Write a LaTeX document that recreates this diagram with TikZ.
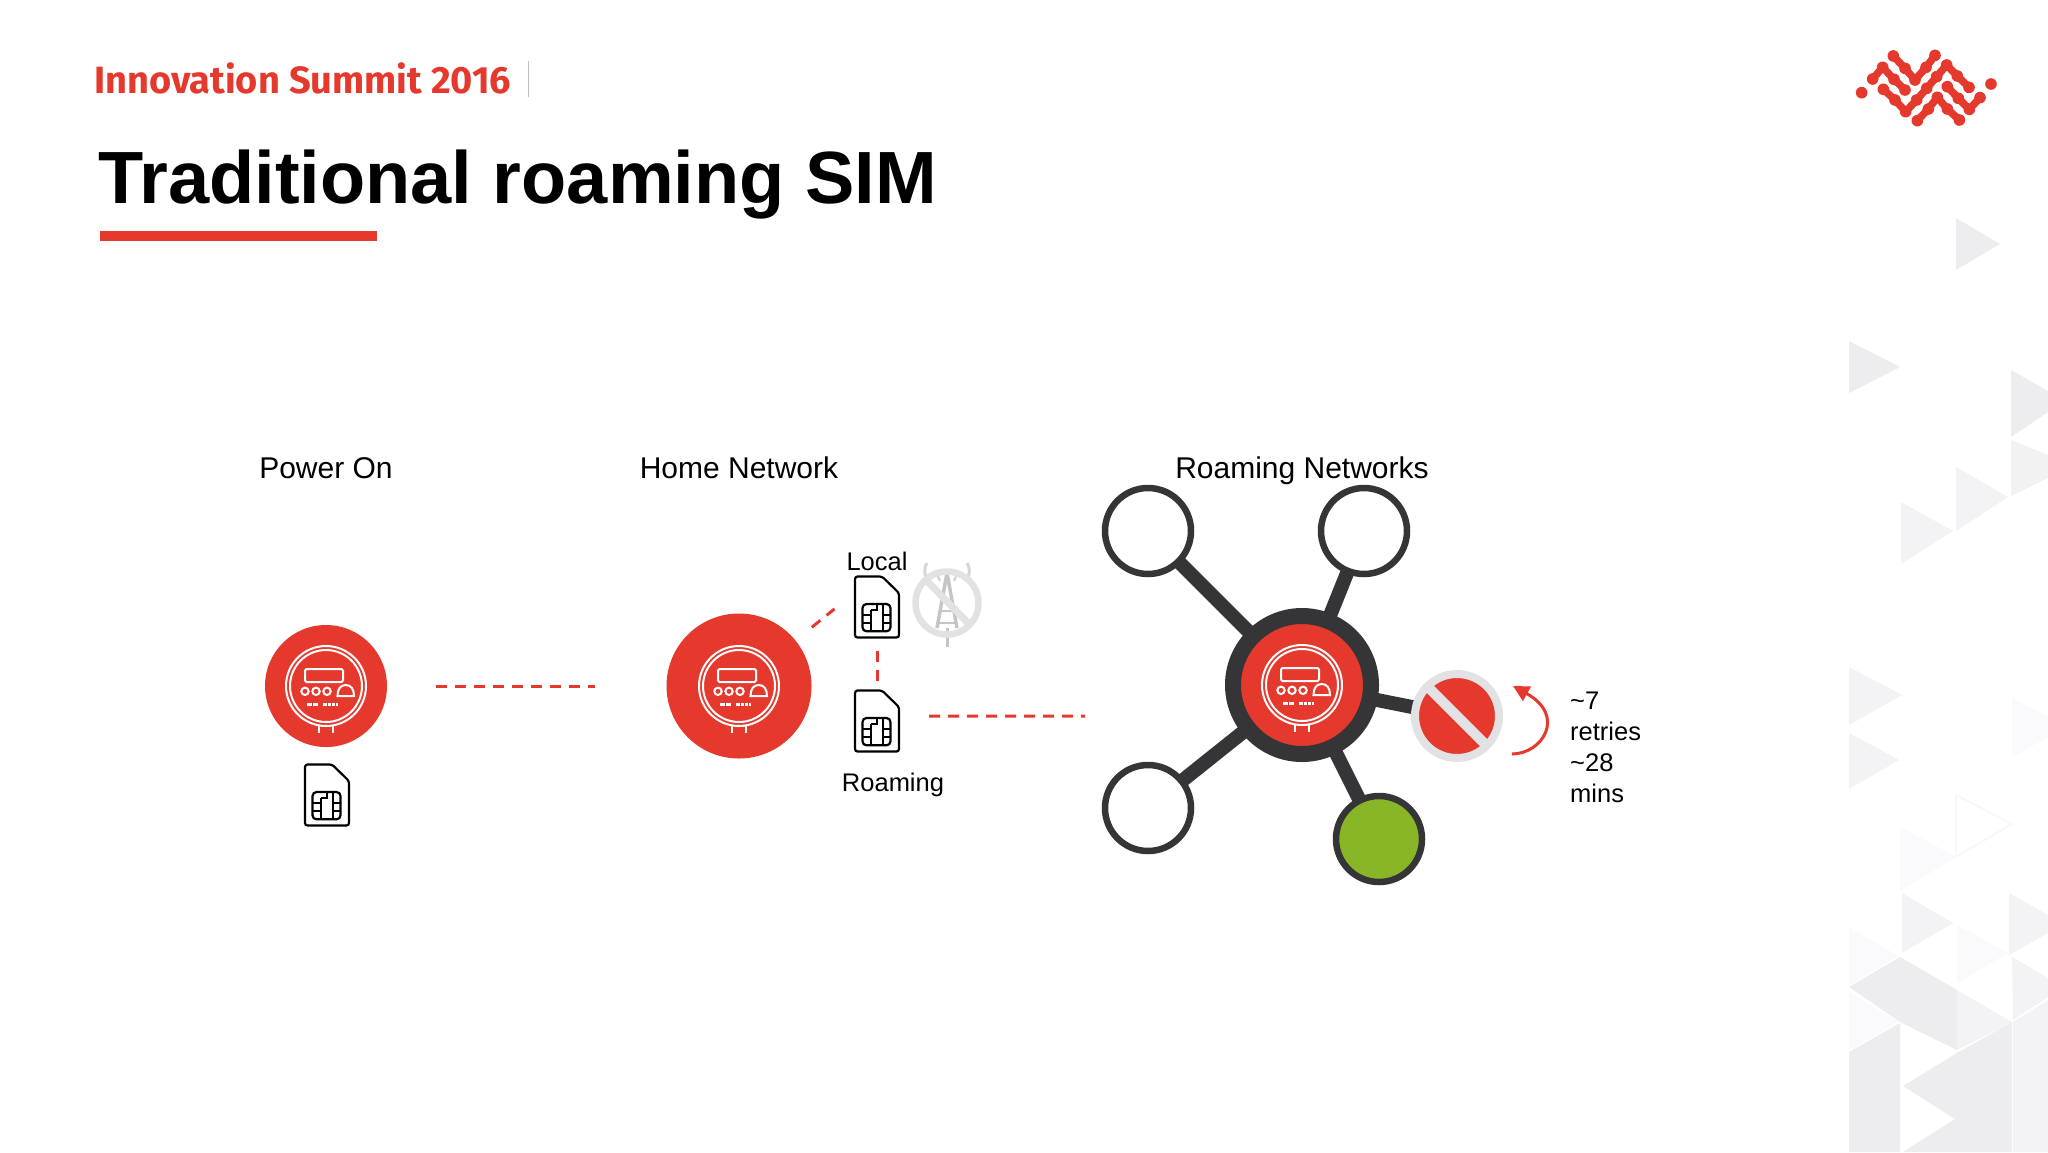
\documentclass[tikz,border=0pt]{standalone}
\usepackage{fontspec}
\setmainfont{Liberation Sans}
\newfontfamily\headfont{Fira Sans}
\usetikzlibrary{arrows.meta,positioning,shapes,calc}
\pgfdeclarelayer{bg}
\pgfsetlayers{bg,main}

\definecolor{summitred}{HTML}{E5392D}
\definecolor{hubdark}{HTML}{353538}
\definecolor{goodgreen}{HTML}{88B626}
\definecolor{blockgrey}{HTML}{E2E2E4}
\definecolor{towergrey}{HTML}{D6D6D8}
\definecolor{bgdark}{HTML}{EDECEE}
\definecolor{bgmid}{HTML}{F3F2F4}
\definecolor{bglight}{HTML}{FAF9FB}

\tikzset{
  label/.style = {font=\fontsize{30}{31}\selectfont, anchor=base},
  small/.style = {font=\fontsize{25.5}{31}\selectfont, anchor=base},
  meter/.style = {circle, fill=summitred, inner sep=0, outer sep=0},
  simnode/.style = {rectangle, minimum width=46pt, minimum height=63pt, inner sep=0, outer sep=0},
  outer/.style = {circle, draw=hubdark, line width=6.5pt, fill=white, minimum size=86pt, inner sep=0, outer sep=0},
  spoke/.style = {hubdark, line width=14pt},
  reddash/.style = {summitred, line width=3pt, dash pattern=on 11pt off 8pt},
  meterline/.style = {white, line width=2pt},
  simline/.style = {black, line width=2.2pt},
  metericon/.pic = {
    \draw[meterline] (0,0) circle (40);
    \draw[meterline] (0,0) circle (36);
    \draw[meterline, rounded corners=1.5pt] (-21,-17) rectangle (17,-4);
    \foreach \dx in {-21,-10,1}
      \draw[meterline] (\dx,5.3) circle (3.7);
    \draw[meterline] (11.5,10) -- (28,10) .. controls (28,3) and (25,-1) .. (19.7,-1) .. controls (14.5,-1) and (11.5,3) .. (11.5,10) -- cycle;
    \draw[white, line width=3pt, dash pattern=on 5pt off 1pt] (-18.7,18.7) -- (-7,18.7);
    \draw[white, line width=3pt, dash pattern=on 3.2pt off 1pt] (-2.7,18.7) -- (12.3,18.7);
    \draw[meterline] (-7,38.5) -- (-7,47);
    \draw[meterline] (7.3,38.5) -- (7.3,47);
  },
  simicon/.pic = {
    \draw[simline, rounded corners=2.5pt] (-22,-30.5) -- (5,-30.5) -- (22,-14) -- (22,30.5) -- (-22,30.5) -- cycle;
    \draw[simline, rounded corners=4pt] (-14.5,-3) rectangle (13.5,24.3);
    \draw[simline] (-6,3) -- (-6,24.3);
    \draw[simline] (6,-3) -- (6,24.3);
    \draw[simline] (-14.5,8) -- (-6,8);
    \draw[simline] (-14.5,16) -- (-6,16);
    \draw[simline] (6,8) -- (13.5,8);
    \draw[simline] (6,16) -- (13.5,16);
    \draw[simline] (-6,3) -- (0,3) -- (0,-3);
  },
  towericon/.pic = {
    \draw[towergrey!80!gray, line width=3.5pt] (0,-30) -- (-10,25);
    \draw[towergrey!80!gray, line width=3.5pt] (0,-30) -- (10,25);
    \draw[towergrey!80!gray, line width=3pt] (0,25) -- (0,44);
    \draw[towergrey!80!gray, line width=2pt] (-7,8) -- (7,8);
    \draw[towergrey!80!gray, line width=2pt] (-9,20) -- (9,20);
    \draw[towergrey, line width=3pt] (-20,-40) .. controls (-24,-33) and (-22,-28) .. (-20,-23);
    \draw[towergrey, line width=3pt] (20,-40) .. controls (24,-33) and (22,-28) .. (20,-23);
    \draw[towergrey, line width=2.5pt] (-11,-31) -- (-7,-22);
    \draw[towergrey, line width=2.5pt] (11,-31) -- (7,-22);
    \draw[blockgrey, line width=6.5pt] (0,0) circle (31.5);
    \draw[blockgrey, line width=7pt] (-19,-21) -- (21,20);
  }
}

\begin{document}
\begin{tikzpicture}[x = 1pt, y = -1pt]
\useasboundingbox (0,0) rectangle (2048,1152);

% background triangles
\begin{pgfonlayer}{bg}
\fill[white] (0,0) rectangle (2048,1152);
\foreach \a/\b/\c in {1956/218/2000, 1849/341/1900}
  \fill[bgdark] (\a,\b) -- (\c,\b+26) -- (\a,\b+52) -- cycle;
\fill[bgdark] (2011,370) -- (2048,391) -- (2048,412) -- (2011,437) -- cycle;
\fill[bgdark!70!white] (2011,440) -- (2048,455) -- (2048,478) -- (2011,496) -- cycle;
\fill[bgmid] (1956,467) -- (2008,497) -- (1956,531) -- cycle;
\fill[bgmid] (1901,502) -- (1953,531) -- (1901,564) -- cycle;
\fill[bgmid] (1849,667) -- (1902,695) -- (1849,725) -- cycle;
\fill[bgmid] (1849,733) -- (1899,760) -- (1849,789) -- cycle;
\fill[bglight] (2012,698) -- (2048,716) -- (2048,737) -- (2012,757) -- cycle;
\draw[bglight!60!bgmid, line width=1.5pt] (1956,795) -- (2012,824) -- (1956,857) -- cycle;
\fill[bglight] (1900,827) -- (1956,857) -- (1900,891) -- cycle;
\fill[bgmid] (1902,893) -- (1953,923) -- (1902,953) -- cycle;
\fill[bgmid] (2009,893) -- (2048,915) -- (2048,933) -- (2009,955) -- cycle;
\fill[bglight] (1957,925) -- (2008,953) -- (1957,983) -- cycle;
\fill[bglight] (1849,927) -- (1898,956) -- (1849,985) -- cycle;
\fill[bgdark] (1849,987) -- (1900,957) -- (1957,990) -- (1957,1050) -- (1900,1022) -- cycle;
\fill[bgmid] (1957,990) -- (2012,1022) -- (1957,1050) -- cycle;
\fill[bgmid] (2012,957) -- (2048,978) -- (2048,997) -- (2013,1020) -- cycle;
\fill[bglight] (1849,992) -- (1898,1022) -- (1849,1050) -- cycle;
\fill[bgdark] (1849,1052) -- (1900,1023) -- (1900,1152) -- (1849,1152) -- cycle;
\fill[bgdark] (1903,1086) -- (1957,1053) -- (2012,1022) -- (2012,1152) -- (1903,1152) -- (1955,1119) -- cycle;
\fill[bgmid] (2013,1022) -- (2048,1000) -- (2048,1152) -- (2013,1152) -- cycle;
\end{pgfonlayer}

% header
\node[anchor=base west, inner sep=0, text=summitred, font=\headfont\bfseries\fontsize{38}{40}\selectfont] (summit) at (94,93) {Innovation Summit 2016};
\node[anchor=base west, inner sep=0, font=\bfseries\fontsize{74}{80}\selectfont] (title) at (98,203) {Traditional roaming SIM};
\fill[summitred] (100,231) rectangle (377,241);
\draw[black!25, line width=1pt] (528,61) -- (528,97);

% logo
\foreach \chain in {
  {(160,78),(195,115),(225,150),(258,112),(285,76)},
  {(98,147),(128,112),(162,148),(195,180)},
  {(130,178),(165,210),(197,245),(230,210),(260,175),(290,140),(320,105),(352,138),(387,172)},
  {(232,272),(265,237),(292,202),(322,237),(358,270)},
  {(322,170),(355,205),(388,238),(420,203)},
  {(65,188)},
  {(453,162)}}
  \foreach \p [count=\i] in \chain {
    \fill[summitred, xshift=1840pt, yshift=-30pt, x=.3333pt, y=-.3333pt] \p circle (17.5);
    \ifnum\i>1
      \draw[summitred, line width=7.5pt, xshift=1840pt, yshift=-30pt, x=.3333pt, y=-.3333pt] \q -- \p;
    \fi
    \global\let\q\p
  };

% power on
\node[label] (poweron) at (326,478) {Power On};
\node[meter, minimum size=122pt] (meter1) at (326,686) {};
\pic at (meter1) {metericon};
\node[simnode] (sim1) at (327,795) {};
\pic at (sim1) {simicon};

% home network
\node[label] (home) at (739,478) {Home Network};
\node[meter, minimum size=145pt] (meter2) at (739,686) {};
\pic at (meter2) {metericon};
\node[small] (local) at (877,570) {Local};
\node[simnode] (simlocal) at (877,607) {};
\pic at (simlocal) {simicon};
\node[simnode] (simroam) at (877,721) {};
\pic at (simroam) {simicon};
\node[small] (roaming) at (893,791) {Roaming};
\pic at (947,603) {towericon};

% roaming networks
\node[label] (networks) at (1302,478) {Roaming Networks};
\node[circle, draw=hubdark, line width=16pt, fill=summitred, minimum size=138pt, inner sep=0, outer sep=0] (hub) at (1302,685) {};
\pic at (hub) {metericon};
\node[outer] (net1) at (1148,531) {};
\node[outer] (net2) at (1364,531) {};
\node[outer] (net3) at (1148,808) {};
\node[outer, fill=goodgreen] (net4) at (1379,839) {};
\node[circle, draw=blockgrey, line width=8pt, fill=summitred, minimum size=84pt, inner sep=0, outer sep=0] (blocked) at (1457,716) {};
\draw[blockgrey, line width=10pt] (blocked.135) -- (blocked.-45);

\begin{pgfonlayer}{bg}
\foreach \n in {net1,net2,net3,net4,blocked}
  \draw[spoke] (hub) -- (\n);
\end{pgfonlayer}

% dashed links
\coordinate (roamend) at (1085,716);
\draw[reddash, shorten <=49pt, shorten >=72pt] (meter1) -- (meter2);
\draw[reddash, shorten <=21pt, shorten >=25pt] (meter2) -- (simlocal.149);
\draw[reddash, shorten <=12pt, shorten >=9pt] (simlocal) -- (simroam);
\draw[reddash, shorten <=29pt] (simroam.12) -- (roamend);

% retries
\coordinate (retrystart) at (1512,754);
\coordinate (retryend) at (1513,686);
\draw[summitred, line width=3pt, -{Triangle[length=16pt, width=16pt]}] (retrystart) .. controls (1542,754) and (1567,716) .. (retryend);
\node[anchor=west, inner sep=0, align=left, font=\fontsize{25.5}{31}\selectfont] (retries) at (1570,747) {\textasciitilde7\\retries\\\textasciitilde28\\mins};

\end{tikzpicture}
\end{document}
